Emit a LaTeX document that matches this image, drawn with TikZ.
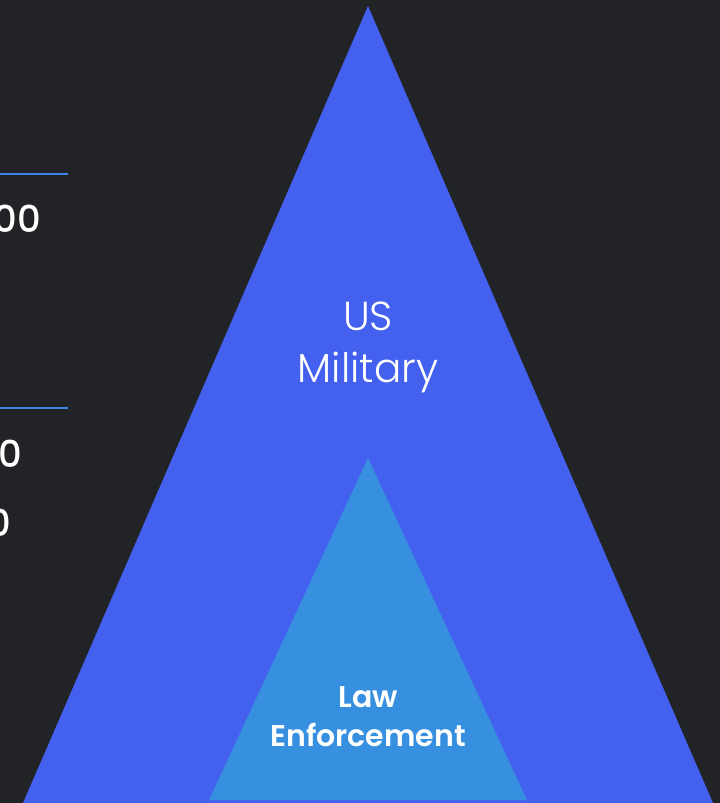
\documentclass[tikz,border=0pt]{standalone}
\usepackage{fontspec}
\setmainfont{Poppins}
\newfontfamily\lightfont{Poppins}[UprightFont=* Light]
\newfontfamily\semifont{Poppins}[UprightFont=* Medium]
\newfontfamily\sbfont{Poppins}[UprightFont=* SemiBold]
\definecolor{bgc}{HTML}{222327}
\definecolor{outerc}{HTML}{4361EE}
\definecolor{innerc}{HTML}{3790DF}
\definecolor{linec}{HTML}{3A86E8}
\begin{document}
\begin{tikzpicture}[x=1pt,y=-1pt,
  lbl/.style={text=white,align=center,inner sep=0pt},
  rule/.style={draw=linec,line width=2pt}]
\useasboundingbox (0,0) rectangle (720,803);
\fill[bgc] (0,0) rectangle (720,803);
\clip (0,0) rectangle (720,803);
\fill[outerc] (368,6) -- (713,803) -- (23,803) -- cycle;
\fill[innerc] (368,458) -- (527,800) -- (209,800) -- cycle;
\node[lbl,font=\lightfont\fontsize{40.5}{52}\selectfont] (mil) at (368,347) {US\\Military};
\node[lbl,font=\sbfont\fontsize{30}{39}\selectfont] (law) at (368,717) {Law\\Enforcement};
\coordinate (r1a) at (0,174); \coordinate (r1b) at (68,174);
\coordinate (r2a) at (0,408); \coordinate (r2b) at (68,408);
\draw[rule] (r1a) -- (r1b);
\draw[rule] (r2a) -- (r2b);
\node[lbl,anchor=east,font=\semifont\fontsize{37}{37}\selectfont] (t1) at (41,219) {00};
\node[lbl,anchor=east,font=\semifont\fontsize{37}{37}\selectfont] (t2) at (22,454) {0};
\node[lbl,anchor=east,font=\semifont\fontsize{37}{37}\selectfont] (t3) at (11,523) {0};
\end{tikzpicture}
\end{document}
